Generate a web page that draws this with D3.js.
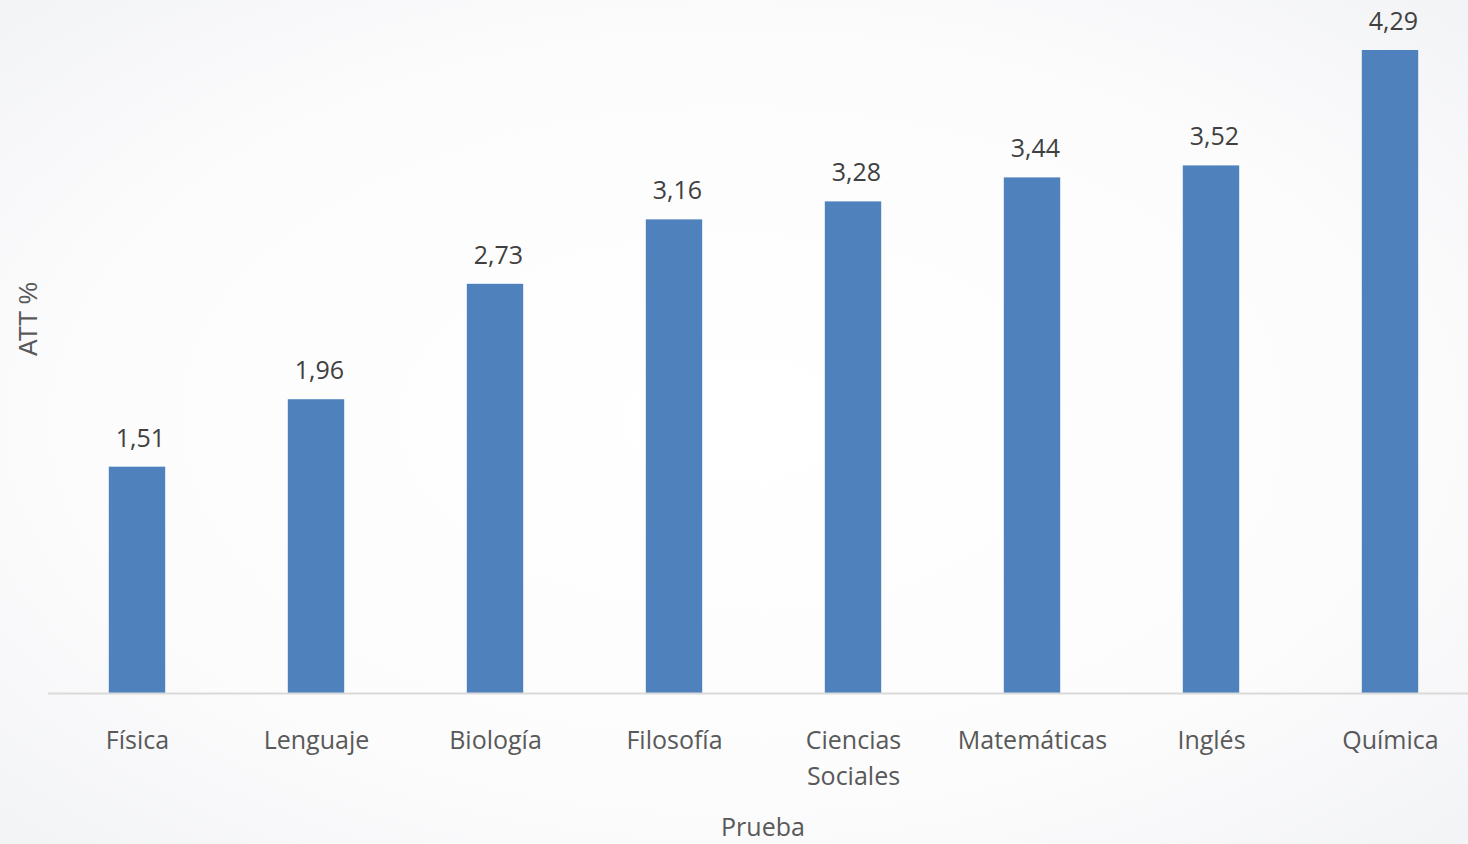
<!DOCTYPE html>
<html>
<head>
<meta charset="utf-8">
<script src="https://cdn.jsdelivr.net/npm/d3@7"></script>
<style>
    body { margin: 0; overflow: hidden; }
    svg text { font-family: "Open Sans", "Noto Sans", sans-serif; fill: #595959; }
</style>
</head>
<body>
<div id="chart"></div>
<script>
// Chart data
const categories = ["Física", "Lenguaje", "Biología", "Filosofía", "Ciencias Sociales", "Matemáticas", "Inglés", "Química"];
const values = [1.51, 1.96, 2.73, 3.16, 3.28, 3.44, 3.52, 4.29];
const xTitle = "Prueba";
const yTitle = "ATT %";

const width = 1468;
const height = 844;
const margin = { top: 50, right: -12, bottom: 151, left: 48 };

const svg = d3.select("#chart")
    .append("svg")
    .attr("width", width)
    .attr("height", height);

// Soft radial background
const defs = svg.append("defs");
const grad = defs.append("radialGradient")
    .attr("id", "bg")
    .attr("cx", "50%").attr("cy", "50%").attr("r", "75%");
grad.append("stop").attr("offset", "0%").attr("stop-color", "#ffffff");
grad.append("stop").attr("offset", "60%").attr("stop-color", "#fcfcfd");
grad.append("stop").attr("offset", "100%").attr("stop-color", "#f1f2f4");

svg.append("rect")
    .attr("width", width)
    .attr("height", height)
    .attr("fill", "url(#bg)");

const x = d3.scaleBand()
    .domain(categories)
    .range([margin.left, width - margin.right])
    .paddingInner(0.685)
    .paddingOuter(0.3425);

const y = d3.scaleLinear()
    .domain([0, d3.max(values)])
    .range([height - margin.bottom, margin.top]);

// Bars
svg.append("g")
    .selectAll("rect")
    .data(values)
    .enter().append("rect")
    .attr("x", (d, i) => x(categories[i]) - 0.5)
    .attr("y", d => y(d))
    .attr("width", x.bandwidth())
    .attr("height", d => y(0) - y(d))
    .attr("fill", "#4f81bd");

// Value labels
svg.append("g")
    .selectAll("text")
    .data(values)
    .enter().append("text")
    .attr("x", (d, i) => x(categories[i]) + x.bandwidth() / 2 + 3)
    .attr("y", d => y(d) - 20)
    .attr("text-anchor", "middle")
    .style("font-size", "25px")
    .style("fill", "#404040")
    .text(d => d3.format(".2f")(d).replace(".", ","));

// X axis line
svg.append("line")
    .attr("x1", margin.left)
    .attr("x2", width)
    .attr("y1", y(0) + 0.5)
    .attr("y2", y(0) + 0.5)
    .attr("stroke", "#d9d9d9")
    .attr("stroke-width", 2);

// Category labels (wrap on space when needed)
const labels = svg.append("g")
    .selectAll("text")
    .data(categories)
    .enter().append("text")
    .attr("x", d => x(d) + x.bandwidth() / 2)
    .attr("y", 749)
    .attr("text-anchor", "middle")
    .style("font-size", "25px");

labels.each(function(d) {
    const words = d === "Ciencias Sociales" ? d.split(" ") : [d];
    const t = d3.select(this);
    words.forEach((w, i) => {
        t.append("tspan")
            .attr("x", t.attr("x"))
            .attr("dy", i === 0 ? 0 : 36)
            .text(w);
    });
});

// Axis titles
svg.append("text")
    .attr("x", 763)
    .attr("y", 836)
    .attr("text-anchor", "middle")
    .style("font-size", "25px")
    .text(xTitle);

svg.append("text")
    .attr("transform", "translate(37,319) rotate(-90)")
    .attr("text-anchor", "middle")
    .style("font-family", "'Liberation Sans', Arial, sans-serif")
    .style("font-size", "25px")
    .text(yTitle);
</script>
</body>
</html>
